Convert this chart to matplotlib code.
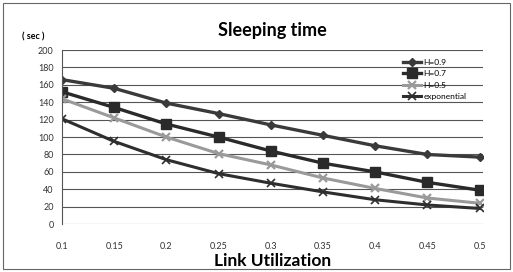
import matplotlib
matplotlib.use("Agg")
import matplotlib.pyplot as plt

plt.rcParams['font.family'] = ['Lato', 'DejaVu Sans']

utilization = [0.1, 0.15, 0.2, 0.25, 0.3, 0.35, 0.4, 0.45, 0.5]
h09 = [166, 156, 139, 127, 114, 102, 90, 80, 77]
h07 = [152, 134, 115, 100, 84, 70, 60, 48, 39]
h05 = [144, 122, 100, 81, 68, 53, 41, 30, 24]
expo = [121, 95, 74, 58, 47, 37, 28, 22, 18]
yticks = [0, 20, 40, 60, 80, 100, 120, 140, 160, 180, 200]
xtick_labels = ['0.1', '0.15', '0.2', '0.25', '0.3', '0.35', '0.4', '0.45', '0.5']

fig = plt.figure(figsize=(5.13, 2.72), dpi=100)
ax = fig.add_axes([0.121, 0.176, 0.82, 0.64])

ax.plot(utilization, h09, color='#3a3a3a', lw=2.4, marker='D', ms=4.5, label='H=0.9')
ax.plot(utilization, h07, color='#2a2a2a', lw=2.4, marker='s', ms=6.5, label='H=0.7')
ax.plot(utilization, h05, color='#9a9a9a', lw=2.2, marker='x', ms=6, mew=1.6, label='H=0.5')
ax.plot(utilization, expo, color='#2e2e2e', lw=2.2, marker='x', ms=6, mew=1.2, label='exponential')

ax.set_xlim(0.1, 0.503)
ax.set_ylim(0, 200)
ax.set_yticks(yticks)
ax.set_xticks(utilization)
ax.set_xticklabels(xtick_labels)
ax.yaxis.grid(True, color='#555555', lw=0.8)
ax.set_axisbelow(True)
for s in ['top', 'right', 'bottom']:
    ax.spines[s].set_visible(False)
ax.spines['left'].set_color('#555555')
ax.tick_params(axis='both', labelsize=6.5, length=0, colors='#333333')
ax.tick_params(axis='x', pad=13)
ax.tick_params(axis='y', pad=6)

ax.set_title('Sleeping time', fontsize=13, fontweight='bold', pad=10)
ax.set_xlabel('Link Utilization', fontsize=12.5, fontweight='bold', labelpad=1)
fig.text(0.042, 0.855, '( sec )', fontsize=6.5, fontweight='bold')

ax.legend(loc='upper left', bbox_to_anchor=(0.8, 0.975), frameon=False,
          fontsize=6, handlelength=2.2, labelspacing=0.55, borderpad=0, handletextpad=0.3)

fig.patches.append(plt.Rectangle((0.005, 0.01), 0.99, 0.98, transform=fig.transFigure,
                                 fill=False, edgecolor='#666666', lw=0.8))

fig.savefig('out.png', dpi=100)
